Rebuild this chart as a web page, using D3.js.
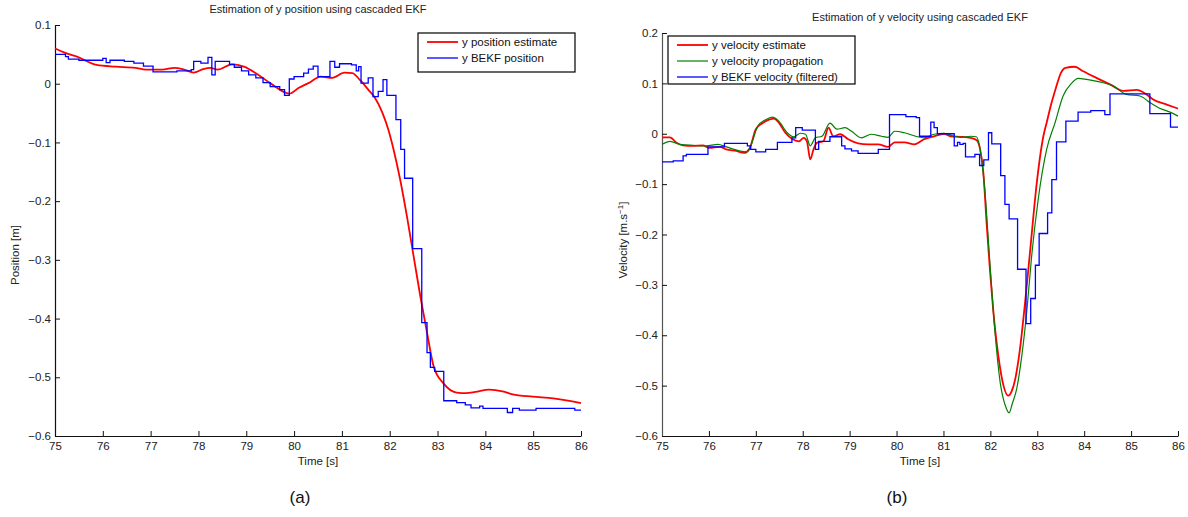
<!DOCTYPE html>
<html>
<head>
<meta charset="utf-8">
<script src="https://cdn.jsdelivr.net/npm/d3@7"></script>
<style>
    body { margin: 0; background: #fff; }
    svg { font-family: "Liberation Sans", Arial, sans-serif; }
    .tick text { font-size: 11.5px; fill: #222; }
</style>
</head>
<body>
<svg id="chart" width="1188" height="517"></svg>
<script>
// ---- data ----
const timeTicks = [75, 76, 77, 78, 79, 80, 81, 82, 83, 84, 85, 86];
const positionTicks = [0.1, 0, -0.1, -0.2, -0.3, -0.4, -0.5, -0.6];
const velocityTicks = [0.2, 0.1, 0, -0.1, -0.2, -0.3, -0.4, -0.5, -0.6];

// [time, value]
const posEstimate = [
    [75.0, 0.060], [75.2, 0.053], [75.46, 0.046], [75.87, 0.032], [76.27, 0.029],
    [76.68, 0.027], [76.9, 0.024], [77.24, 0.024], [77.5, 0.027], [77.7, 0.024],
    [77.9, 0.019], [78.1, 0.025], [78.25, 0.027], [78.4, 0.024], [78.7, 0.033],
    [78.95, 0.029], [79.2, 0.018], [79.5, 0.001], [79.9, -0.017], [80.1, -0.007],
    [80.3, 0.001], [80.56, 0.012], [80.8, 0.010], [81.05, 0.019], [81.22, 0.018],
    [81.38, 0.006], [81.55, -0.010], [81.69, -0.024], [81.85, -0.050], [81.97, -0.078],
    [82.08, -0.112], [82.22, -0.164], [82.36, -0.226], [82.5, -0.294], [82.64, -0.362],
    [82.78, -0.424], [82.92, -0.482], [83.12, -0.510], [83.4, -0.526], [83.6, -0.527],
    [83.79, -0.525], [84.08, -0.521], [84.36, -0.524], [84.57, -0.529], [84.99, -0.533],
    [85.42, -0.536], [86.0, -0.544]
];

const posBekf = [
    [75.0, 0.050], [75.22, 0.046], [75.28, 0.042], [75.5, 0.040], [76.0, 0.043],
    [76.07, 0.036], [76.15, 0.040], [76.45, 0.038], [76.65, 0.035], [76.85, 0.030],
    [77.05, 0.020], [77.55, 0.022], [77.85, 0.024], [77.9, 0.038], [78.05, 0.035],
    [78.2, 0.045], [78.28, 0.015], [78.35, 0.038], [78.65, 0.033], [78.75, 0.028],
    [78.9, 0.022], [79.05, 0.015], [79.2, 0.010], [79.35, 0.002], [79.5, -0.005],
    [79.7, -0.010], [79.8, -0.020], [79.9, 0.008], [80.0, 0.012], [80.2, 0.018],
    [80.3, 0.025], [80.4, 0.030], [80.5, 0.012], [80.75, 0.038], [80.85, 0.028],
    [80.95, 0.034], [81.2, 0.032], [81.3, 0.022], [81.35, 0.029], [81.4, 0.001],
    [81.55, 0.010], [81.65, -0.022], [81.76, -0.013], [81.86, 0.007], [81.94, -0.020],
    [82.13, -0.061], [82.23, -0.112], [82.31, -0.161], [82.48, -0.281], [82.67, -0.407],
    [82.78, -0.458], [82.85, -0.483], [82.94, -0.490], [83.13, -0.540], [83.4, -0.543],
    [83.58, -0.547], [83.7, -0.552], [83.88, -0.549], [83.95, -0.553], [84.46, -0.560],
    [84.57, -0.553], [84.71, -0.556], [85.06, -0.553], [85.87, -0.556], [86.0, -0.556]
];

const velEstimate = [
    [75.0, -0.007], [75.17, -0.007], [75.31, -0.018], [75.45, -0.023], [75.66, -0.024],
    [75.87, -0.023], [76.01, -0.028], [76.23, -0.026], [76.37, -0.031], [76.58, -0.034],
    [76.75, -0.038], [76.86, -0.031], [77.0, 0.009], [77.14, 0.021], [77.28, 0.028],
    [77.39, 0.030], [77.49, 0.022], [77.63, 0.002], [77.77, -0.010], [77.92, -0.015],
    [78.02, -0.008], [78.09, -0.015], [78.16, -0.051], [78.23, -0.031], [78.3, -0.018],
    [78.44, -0.015], [78.55, 0.012], [78.65, -0.005], [78.8, -0.001], [78.97, -0.011],
    [79.18, -0.019], [79.39, -0.021], [79.61, -0.021], [79.82, -0.026], [79.96, -0.017],
    [80.17, -0.017], [80.38, -0.021], [80.59, -0.011], [80.8, -0.005], [81.01, 0.000],
    [81.15, -0.005], [81.37, -0.006], [81.58, -0.008], [81.71, -0.013], [81.78, -0.030],
    [81.85, -0.077], [81.92, -0.177], [81.99, -0.269], [82.06, -0.349], [82.17, -0.441],
    [82.28, -0.500], [82.38, -0.520], [82.45, -0.512], [82.53, -0.487], [82.63, -0.428],
    [82.74, -0.335], [82.85, -0.230], [82.99, -0.097], [83.13, -0.005], [83.2, 0.022],
    [83.3, 0.060], [83.4, 0.092], [83.5, 0.120], [83.6, 0.131], [83.8, 0.133],
    [83.98, 0.124], [84.26, 0.111], [84.55, 0.098], [84.83, 0.085], [85.12, 0.087],
    [85.33, 0.078], [85.47, 0.068], [85.76, 0.058], [86.0, 0.050]
];

const velPropagation = [
    [75.0, -0.021], [75.17, -0.015], [75.38, -0.021], [75.66, -0.023], [75.94, -0.024],
    [76.19, -0.021], [76.37, -0.026], [76.65, -0.034], [76.79, -0.036], [76.89, -0.024],
    [77.04, 0.015], [77.21, 0.028], [77.35, 0.033], [77.49, 0.025], [77.67, 0.002],
    [77.81, -0.006], [77.95, 0.001], [78.06, -0.001], [78.16, -0.024], [78.27, -0.008],
    [78.41, -0.005], [78.58, 0.021], [78.73, 0.009], [78.9, 0.012], [79.04, 0.005],
    [79.25, -0.008], [79.46, -0.001], [79.68, -0.005], [79.82, -0.007], [79.96, 0.005],
    [80.17, 0.002], [80.45, -0.006], [80.59, -0.008], [80.8, -0.001], [81.01, 0.001],
    [81.23, -0.005], [81.37, -0.007], [81.58, -0.005], [81.7, -0.006], [81.78, -0.030],
    [81.88, -0.110], [81.97, -0.230], [82.06, -0.349], [82.21, -0.494], [82.32, -0.540],
    [82.40, -0.554], [82.47, -0.535], [82.56, -0.507], [82.67, -0.441], [82.78, -0.349],
    [82.88, -0.243], [83.02, -0.130], [83.2, -0.031], [83.38, 0.022], [83.55, 0.075],
    [83.73, 0.100], [83.87, 0.110], [84.05, 0.108], [84.33, 0.103], [84.62, 0.095],
    [84.9, 0.078], [85.19, 0.075], [85.4, 0.062], [85.62, 0.050], [85.83, 0.043],
    [86.0, 0.035]
];

const velBekf = [
    [75.0, -0.056], [75.24, -0.054], [75.45, -0.044], [75.52, -0.041], [75.98, -0.026],
    [76.33, -0.019], [76.82, -0.024], [76.89, -0.031], [77.0, -0.036], [77.21, -0.031],
    [77.46, -0.017], [77.77, -0.008], [77.85, 0.012], [77.99, 0.007], [78.27, -0.031],
    [78.34, -0.015], [78.58, -0.006], [78.83, -0.024], [78.9, -0.030], [79.04, -0.034],
    [79.18, -0.039], [79.61, -0.031], [79.85, 0.038], [80.2, 0.034], [80.42, 0.032],
    [80.49, -0.005], [80.73, 0.023], [80.8, 0.012], [80.87, 0.000], [81.23, -0.024],
    [81.3, -0.017], [81.35, -0.021], [81.42, -0.019], [81.47, -0.046], [81.67, -0.041],
    [81.77, -0.063], [81.86, -0.052], [81.96, 0.002], [82.03, -0.020], [82.22, -0.083],
    [82.31, -0.140], [82.4, -0.169], [82.58, -0.269], [82.76, -0.377], [82.86, -0.327],
    [82.96, -0.261], [83.04, -0.198], [83.22, -0.157], [83.31, -0.091], [83.41, -0.016],
    [83.61, 0.025], [83.87, 0.043], [84.14, 0.046], [84.44, 0.038], [84.55, 0.079],
    [85.4, 0.040], [85.84, 0.013], [86.0, 0.013]
];

const svg = d3.select("#chart");
const minus = s => String(s).replace("-", "\u2212");

function drawPanel({ box, yDomain, yTicks, title, yLabel, caption, series, legend, axisColor }) {
    const x = d3.scaleLinear().domain([75, 86]).range([box.left, box.right]);
    const y = d3.scaleLinear().domain(yDomain).range([box.bottom, box.top]);

    const g = svg.append("g");

    //axes, ticks pointing inwards like matlab
    const xAxis = g.append("g")
        .attr("transform", `translate(0, ${box.bottom})`)
        .call(d3.axisBottom(x).tickValues(timeTicks).tickSizeInner(-5).tickSizeOuter(0).tickPadding(3));
    xAxis.selectAll("text").attr("dy", "0.95em");

    const yAxis = g.append("g")
        .attr("transform", `translate(${box.left}, 0)`)
        .call(d3.axisLeft(y).tickValues(yTicks).tickSizeInner(-5).tickSizeOuter(0).tickPadding(4)
            .tickFormat(d => minus(d3.format("~g")(d))));

    [xAxis, yAxis].forEach(a => {
        a.selectAll(".domain").attr("stroke", "#111").attr("stroke-width", 1.2);
        a.selectAll(".tick line").attr("stroke", "#111");
    });
    yAxis.selectAll(".domain").attr("stroke", axisColor);

    //lines
    series.forEach(s => {
        const line = d3.line()
            .x(d => x(d[0]))
            .y(d => y(d[1]))
            .curve(s.step ? d3.curveStepAfter : d3.curveMonotoneX);
        g.append("path")
            .datum(s.data)
            .attr("fill", "none")
            .attr("stroke", s.color)
            .attr("stroke-width", s.width)
            .attr("d", line);
    });

    //title
    g.append("text")
        .attr("x", (box.left + box.right) / 2)
        .attr("y", box.top - 12)
        .attr("text-anchor", "middle")
        .attr("font-size", 11)
        .attr("fill", "#222")
        .text(title);

    //x label
    g.append("text")
        .attr("x", (box.left + box.right) / 2)
        .attr("y", box.bottom + 29)
        .attr("text-anchor", "middle")
        .attr("font-size", 11.5)
        .attr("fill", "#222")
        .text("Time [s]");

    //y label
    const yl = g.append("text")
        .attr("transform", `translate(${yLabel.x}, ${yLabel.y}) rotate(-90)`)
        .attr("text-anchor", "middle")
        .attr("font-size", 11.5)
        .attr("fill", "#222");
    yLabel.parts.forEach(p => {
        const t = yl.append("tspan").text(p.text);
        if (p.sup) t.attr("font-size", 8).attr("baseline-shift", "super");
    });

    //caption
    g.append("text")
        .attr("x", caption.x)
        .attr("y", 503)
        .attr("text-anchor", "middle")
        .attr("font-size", 17)
        .attr("fill", "#111")
        .text(caption.text);

    //legend
    const lg = g.append("g");
    lg.append("rect")
        .attr("x", legend.x)
        .attr("y", legend.y)
        .attr("width", legend.w)
        .attr("height", legend.h)
        .attr("fill", "#fff")
        .attr("stroke", "#000")
        .attr("stroke-width", 1.2);
    series.forEach((s, i) => {
        const cy = legend.y + 9 + i * 16;
        lg.append("line")
            .attr("x1", legend.x + 9).attr("x2", legend.x + 40)
            .attr("y1", cy).attr("y2", cy)
            .attr("stroke", s.color)
            .attr("stroke-width", s.width);
        lg.append("text")
            .attr("x", legend.x + 44)
            .attr("y", cy + 4)
            .attr("font-size", 11.5)
            .attr("fill", "#111")
            .text(s.name);
    });
}

drawPanel({
    box: { left: 55, right: 581, top: 25, bottom: 436 },
    yDomain: [-0.6, 0.1],
    yTicks: positionTicks,
    title: "Estimation of y position using cascaded EKF",
    yLabel: { x: 19, y: 255, parts: [{ text: "Position [m]" }] },
    caption: { x: 300, text: "(a)" },
    axisColor: "#111",
    legend: { x: 418, y: 33, w: 157, h: 39 },
    series: [
        { name: "y position estimate", data: posEstimate, color: "#ff0000", width: 1.8 },
        { name: "y BEKF position", data: posBekf, color: "#0000ff", width: 1.3, step: true }
    ]
});

drawPanel({
    box: { left: 662, right: 1178, top: 33, bottom: 436 },
    yDomain: [-0.6, 0.2],
    yTicks: velocityTicks,
    title: "Estimation of y velocity using cascaded EKF",
    yLabel: { x: 627, y: 240, parts: [{ text: "Velocity [m.s" }, { text: "\u22121", sup: true }, { text: "]" }] },
    caption: { x: 897, text: "(b)" },
    axisColor: "#555",
    legend: { x: 668, y: 36, w: 187, h: 48 },
    series: [
        { name: "y velocity estimate", data: velEstimate, color: "#ff0000", width: 1.8 },
        { name: "y velocity propagation", data: velPropagation, color: "#008000", width: 1.2 },
        { name: "y BEKF velocity (filtered)", data: velBekf, color: "#0000ff", width: 1.3, step: true }
    ]
});
</script>
</body>
</html>
